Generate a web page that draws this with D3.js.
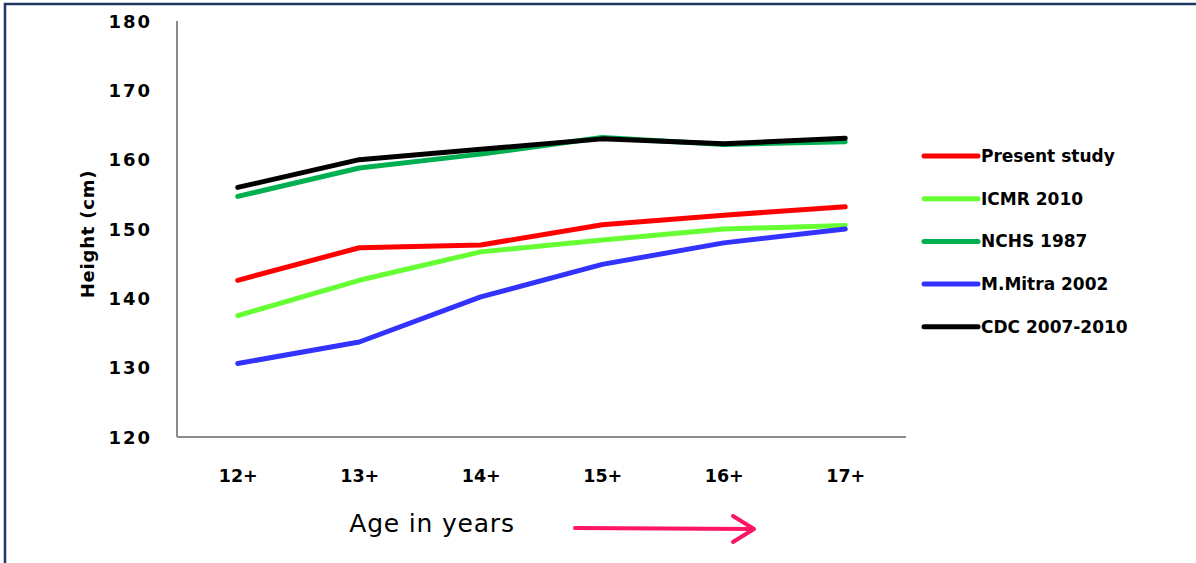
<!DOCTYPE html>
<html>
<head>
<meta charset="utf-8">
<script src="https://cdn.jsdelivr.net/npm/d3@7"></script>
<style>
  html, body { margin: 0; padding: 0; background: #fff; }
  svg { display: block; }
  text { font-family: "DejaVu Sans", "Noto Sans", sans-serif; fill: #000; }
</style>
</head>
<body>
<svg id="chart" width="1196" height="563"></svg>
<script>
// Age groups on the x axis
const ages = ["12+", "13+", "14+", "15+", "16+", "17+"];

// Mean height (cm) by age group for each reference
const presentStudy = [142.6, 147.3, 147.7, 150.6, 152.0, 153.2];
const icmr2010     = [137.5, 142.6, 146.7, 148.4, 150.0, 150.5];
const nchs1987     = [154.7, 158.8, 160.8, 163.2, 162.2, 162.6];
const mitra2002    = [130.6, 133.7, 140.2, 144.9, 148.0, 150.0];
const cdc20072010  = [156.0, 160.0, 161.5, 163.0, 162.3, 163.1];

const yTicks = [120, 130, 140, 150, 160, 170, 180];

const seriesNames  = ["Present study", "ICMR 2010", "NCHS 1987", "M.Mitra 2002", "CDC 2007-2010"];
const seriesColors = ["#ff0000", "#66ff33", "#00b050", "#3333ff", "#000000"];
const seriesValues = [presentStudy, icmr2010, nchs1987, mitra2002, cdc20072010];

const FONT = '"DejaVu Sans", "Noto Sans", sans-serif';
const svg = d3.select("#chart");

// Outer frame (top and left edges)
svg.append("path")
  .attr("d", "M5,563 L5,4 L1196,4")
  .attr("fill", "none")
  .attr("stroke", "#1f3864")
  .attr("stroke-width", 2.5);

const plot = { left: 177, right: 906, top: 21, bottom: 437 };

const x = d3.scalePoint().domain(ages).range([plot.left, plot.right]).padding(0.5);
const y = d3.scaleLinear().domain([120, 180]).range([plot.bottom, plot.top]);

// Axes
const yAxis = svg.append("g")
  .attr("transform", `translate(${plot.left},0)`)
  .call(d3.axisLeft(y).tickValues(yTicks).tickSize(0).tickPadding(25));
const xAxis = svg.append("g")
  .attr("transform", `translate(0,${plot.bottom})`)
  .call(d3.axisBottom(x).tickSize(0));

[yAxis, xAxis].forEach(g => {
  g.attr("font-family", null).attr("font-size", null);
  g.select(".domain").attr("stroke", "#8c8c8c").attr("stroke-width", 2);
  g.selectAll("text")
    .style("font-family", FONT)
    .style("font-weight", "bold")
    .attr("fill", "#000");
});
yAxis.selectAll("text")
  .style("font-size", "18px")
  .style("letter-spacing", "2px")
  .attr("dy", "0.35em");
xAxis.selectAll("text")
  .style("font-size", "17.5px")
  .attr("dy", "0.35em").attr("y", 39);
xAxis.select(".domain").attr("d", `M${plot.left},0H${plot.right}`);
yAxis.select(".domain").attr("d", `M0,${plot.bottom}V${plot.top}`);

// Axis titles
svg.append("text")
  .attr("transform", `translate(94,${(plot.top + plot.bottom) / 2 + 5}) rotate(-90)`)
  .attr("text-anchor", "middle")
  .style("font-size", "18px")
  .style("font-weight", "bold")
  .style("letter-spacing", "0.8px")
  .text("Height (cm)");

svg.append("text")
  .attr("x", 432)
  .attr("y", 532)
  .attr("text-anchor", "middle")
  .style("font-size", "25px")
  .style("letter-spacing", "0.8px")
  .text("Age in years");

// Direction arrow next to the x title
const arrowColor = "#ff1466";
svg.append("line")
  .attr("x1", 575).attr("y1", 528).attr("x2", 752).attr("y2", 529)
  .attr("stroke", arrowColor).attr("stroke-width", 4).attr("stroke-linecap", "round");
svg.append("path")
  .attr("d", "M733,516 L754,529 L733,542")
  .attr("fill", "none")
  .attr("stroke", arrowColor).attr("stroke-width", 4)
  .attr("stroke-linecap", "round").attr("stroke-linejoin", "round");

// Series lines
const line = d3.line()
  .x((d, i) => x(ages[i]))
  .y(d => y(d));

svg.append("g")
  .selectAll("path")
  .data(seriesValues)
  .join("path")
  .attr("d", d => line(d))
  .attr("fill", "none")
  .attr("stroke", (d, i) => seriesColors[i])
  .attr("stroke-width", 5)
  .attr("stroke-linecap", "round")
  .attr("stroke-linejoin", "round");

// Legend
const legend = svg.append("g").attr("transform", "translate(924,156)");
const item = legend.selectAll("g")
  .data(seriesNames)
  .join("g")
  .attr("transform", (d, i) => `translate(0,${i * 42.7})`);
item.append("line")
  .attr("x1", 0).attr("x2", 54).attr("y1", 0).attr("y2", 0)
  .attr("stroke", (d, i) => seriesColors[i])
  .attr("stroke-width", 5)
  .attr("stroke-linecap", "round");
item.append("text")
  .attr("x", 57)
  .attr("dy", "0.35em")
  .style("font-size", "17px")
  .style("font-weight", "bold")
  .text(d => d);
</script>
</body>
</html>
